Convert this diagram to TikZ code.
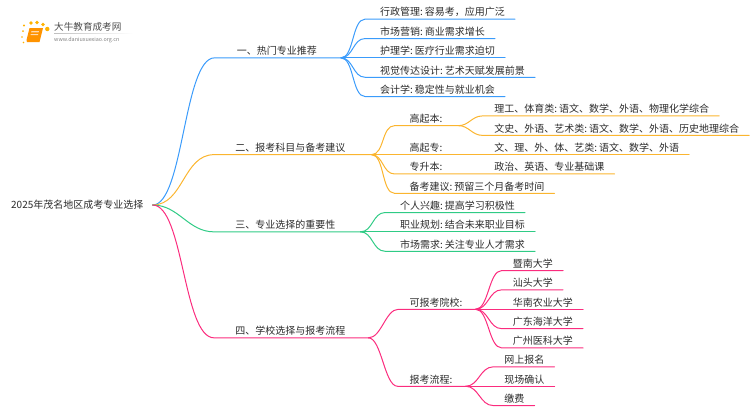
\documentclass[tikz,border=0pt]{standalone}
\usepackage{fontspec}
\setmainfont[WordSpace=0.5]{Noto Sans CJK SC}
\usetikzlibrary{positioning}
\usepackage{xcolor}
\definecolor{bluebr}{HTML}{3A9BFB}
\definecolor{orangebr}{HTML}{FBB52F}
\definecolor{greenbr}{HTML}{2FCB85}
\definecolor{pinkbr}{HTML}{FB2C7E}
\definecolor{labelgray}{HTML}{2B2B2B}

\begin{document}
\begin{tikzpicture}
		\tikzstyle{topic} = [rectangle, inner xsep=0pt, inner ysep=1.7pt, text height=9pt, text depth=1.3pt, font=\fontsize{10pt}{12pt}\selectfont, text=labelgray]
		\tikzstyle{line} = [draw, line width=1pt, line cap=round]
		\tikzstyle{bigcurve} = [out=0, in=180, max distance=31pt]
		\tikzstyle{smallcurve} = [out=0, in=180, max distance=13pt]
		\useasboundingbox (0,0) rectangle (750pt,-410pt);

		% Logo
		\node [anchor=west, inner sep=0pt, font=\fontsize{9.6pt}{11pt}\selectfont, text=black!70] (logotitle) at (54pt,-27pt) {大牛教育成考网};
		\node [below=5pt of logotitle.south west, anchor=north west, inner sep=0pt, font=\fontsize{5.4pt}{6pt}\selectfont, text=black!50] (logourl) {www.daniuxuexiao.org.cn};
		\fill [left color=black!25, right color=white] (54pt,-33.2pt) rectangle (133pt,-33.9pt);
		\fill [orange!85!yellow] (29.5pt,-28pt) -- (43pt,-28pt) -- (39.5pt,-42pt) -- (27pt,-42pt) -- (26.5pt,-40pt) -- cycle;
		\fill [orange!30!white] (31.5pt,-31pt) -- (39pt,-31pt) -- (38.6pt,-32.4pt) -- (31.1pt,-32.4pt) -- cycle;
		\fill [orange!30!white] (30.8pt,-34pt) -- (38.3pt,-34pt) -- (38pt,-35pt) -- (30.5pt,-35pt) -- cycle;
		\fill [orange!60!yellow] (23pt,-31pt) circle (1pt) (24pt,-25.5pt) circle (1.2pt) (31pt,-23pt) circle (1.8pt) (37pt,-22.5pt) circle (1.9pt) (43pt,-24.5pt) circle (1.8pt) (47.3pt,-29pt) circle (2.2pt) (22pt,-37pt) circle (.8pt) (23.5pt,-42.5pt) circle (.8pt);

		% Root
		\node [topic, anchor=west] (root) at (11pt,-205pt) {2025年茂名地区成考专业选择};
		\coordinate [right=9pt of root.east] (rootj);

		% Hot majors
		\node [topic, right=93pt of root.east, yshift=154.2pt] (a1) {一、热门专业推荐};
		\coordinate [right=24pt of a1.south east] (a1j);
		\node [topic, right=63pt of a1.east, yshift=38.7pt] (a11) {行政管理: 容易考，应用广泛};
		\node [topic, right=63pt of a1.east, yshift=19.3pt] (a12) {市场营销: 商业需求增长};
		\node [topic, right=63pt of a1.east] (a13) {护理学: 医疗行业需求迫切};
		\node [topic, right=63pt of a1.east, yshift=-19.4pt] (a14) {视觉传达设计: 艺术天赋发展前景};
		\node [topic, right=63pt of a1.east, yshift=-38.7pt] (a15) {会计学: 稳定性与就业机会};

		% Subjects
		\node [topic, right=91.5pt of root.east, yshift=57.4pt] (b1) {二、报考科目与备考建议};
		\coordinate [right=26pt of b1.south east] (b1j);
		\node [topic, right=64pt of b1.east, yshift=29pt] (b11) {高起本:};
		\coordinate [right=16pt of b11.south east] (b11j);
		\node [topic, right=51.5pt of b11.east, yshift=9.7pt] (b111) {理工、体育类: 语文、数学、外语、物理化学综合};
		\node [topic, right=51.5pt of b11.east, yshift=-9.7pt] (b112) {文史、外语、艺术类: 语文、数学、外语、历史地理综合};
		\node [topic, right=64pt of b1.east] (b12) {高起专:};
		\node [topic, right=51.5pt of b12.east] (b121) {文、理、外、体、艺类: 语文、数学、外语};
		\node [topic, right=64pt of b1.east, yshift=-19.3pt] (b13) {专升本:};
		\node [topic, right=51.5pt of b13.east] (b131) {政治、英语、专业基础课};
		\node [topic, right=64pt of b1.east, yshift=-38.7pt] (b14) {备考建议: 预留三个月备考时间};

		% Importance
		\node [topic, right=91.5pt of root.east, yshift=-19.8pt] (c1) {三、专业选择的重要性};
		\coordinate [right=25pt of c1.south east] (c1j);
		\node [topic, right=64.5pt of c1.east, yshift=19.3pt] (c11) {个人兴趣: 提高学习积极性};
		\node [topic, right=64.5pt of c1.east] (c12) {职业规划: 结合未来职业目标};
		\node [topic, right=64.5pt of c1.east, yshift=-19.4pt] (c13) {市场需求: 关注专业人才需求};

		% Schools
		\node [topic, right=91.5pt of root.east, yshift=-125.8pt] (d1) {四、学校选择与报考流程};
		\coordinate [right=23pt of d1.south east] (d1j);
		\node [topic, right=64pt of d1.east, yshift=28.6pt] (d11) {可报考院校:};
		\coordinate [right=13pt of d11.south east] (d11j);
		\node [topic, right=50pt of d11.east, yshift=38.7pt] (d111) {暨南大学};
		\node [topic, right=50pt of d11.east, yshift=19.4pt] (d112) {汕头大学};
		\node [topic, right=50pt of d11.east] (d113) {华南农业大学};
		\node [topic, right=50pt of d11.east, yshift=-19.4pt] (d114) {广东海洋大学};
		\node [topic, right=50pt of d11.east, yshift=-38.7pt] (d115) {广州医科大学};
		\node [topic, right=64pt of d1.east, yshift=-48.4pt] (d12) {报考流程:};
		\coordinate [right=13pt of d12.south east] (d12j);
		\node [topic, right=51.5pt of d12.east, yshift=19.4pt] (d121) {网上报名};
		\node [topic, right=51.5pt of d12.east] (d122) {现场确认};
		\node [topic, right=51.5pt of d12.east, yshift=-19.3pt] (d123) {缴费};

		% arrows
		\draw [line, bluebr] (rootj) to[bigcurve] ([xshift=-22pt]a1.south west) -- (a1j);
		\draw [line, bluebr] (a1j) to[smallcurve] ([xshift=-15pt]a11.south west) -- ([xshift=10pt]a11.south east);
		\draw [line, bluebr] (a1j) to[smallcurve] ([xshift=-15pt]a12.south west) -- ([xshift=10pt]a12.south east);
		\draw [line, bluebr] (a1j) to[smallcurve] ([xshift=-15pt]a13.south west) -- ([xshift=10pt]a13.south east);
		\draw [line, bluebr] (a1j) to[smallcurve] ([xshift=-15pt]a14.south west) -- ([xshift=10pt]a14.south east);
		\draw [line, bluebr] (a1j) to[smallcurve] ([xshift=-15pt]a15.south west) -- ([xshift=10pt]a15.south east);
		%
		\draw [line, orangebr] (rootj) to[bigcurve] ([xshift=-21pt]b1.south west) -- (b1j);
		\draw [line, orangebr] (b1j) to[smallcurve] ([xshift=-15pt]b11.south west) -- (b11j);
		\draw [line, orangebr] (b11j) to[smallcurve] ([xshift=-12pt]b111.south west) -- ([xshift=10pt]b111.south east);
		\draw [line, orangebr] (b11j) to[smallcurve] ([xshift=-12pt]b112.south west) -- ([xshift=10pt]b112.south east);
		\draw [line, orangebr] (b1j) -- (b12.south west) -- (b121.south west) -- ([xshift=10pt]b121.south east);
		\draw [line, orangebr] (b1j) to[smallcurve] ([xshift=-15pt]b13.south west) -- (b131.south west) -- ([xshift=10pt]b131.south east);
		\draw [line, orangebr] (b1j) to[smallcurve] ([xshift=-15pt]b14.south west) -- ([xshift=10pt]b14.south east);
		%
		\draw [line, greenbr] (rootj) to[bigcurve] ([xshift=-21pt]c1.south west) -- (c1j);
		\draw [line, greenbr] (c1j) to[smallcurve] ([xshift=-15pt]c11.south west) -- ([xshift=10pt]c11.south east);
		\draw [line, greenbr] (c1j) -- ([xshift=10pt]c12.south east);
		\draw [line, greenbr] (c1j) to[smallcurve] ([xshift=-15pt]c13.south west) -- ([xshift=10pt]c13.south east);
		%
		\draw [line, pinkbr] (rootj) to[bigcurve] ([xshift=-21pt]d1.south west) -- (d1j);
		\draw [line, pinkbr] (d1j) to[smallcurve] ([xshift=-11pt]d11.south west) -- (d11j);
		\draw [line, pinkbr] (d11j) to[smallcurve] ([xshift=-11pt]d111.south west) -- ([xshift=10pt]d111.south east);
		\draw [line, pinkbr] (d11j) to[smallcurve] ([xshift=-11pt]d112.south west) -- ([xshift=10pt]d112.south east);
		\draw [line, pinkbr] (d11j) -- ([xshift=10pt]d113.south east);
		\draw [line, pinkbr] (d11j) to[smallcurve] ([xshift=-11pt]d114.south west) -- ([xshift=10pt]d114.south east);
		\draw [line, pinkbr] (d11j) to[smallcurve] ([xshift=-11pt]d115.south west) -- ([xshift=10pt]d115.south east);
		\draw [line, pinkbr] (d1j) to[smallcurve] ([xshift=-12pt]d12.south west) -- (d12j);
		\draw [line, pinkbr] (d12j) to[smallcurve] ([xshift=-11pt]d121.south west) -- ([xshift=10pt]d121.south east);
		\draw [line, pinkbr] (d12j) -- ([xshift=10pt]d122.south east);
		\draw [line, pinkbr] (d12j) to[smallcurve] ([xshift=-11pt]d123.south west) -- ([xshift=10pt]d123.south east);
	\end{tikzpicture}
\end{document}
